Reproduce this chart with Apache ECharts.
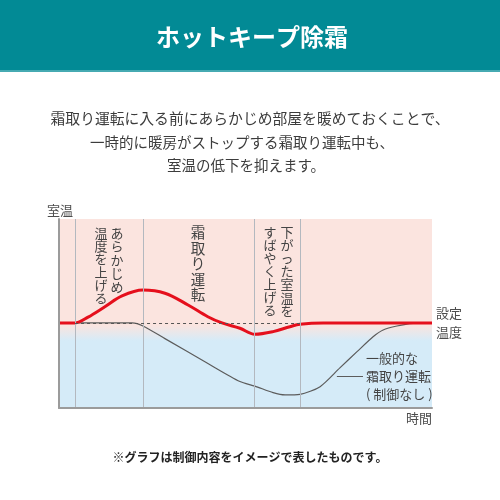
<!DOCTYPE html>
<html>
<head>
<meta charset="utf-8">
<script src="https://cdn.jsdelivr.net/npm/echarts@6/dist/echarts.min.js"></script>
<style>
  html, body { margin: 0; padding: 0; background: #fff; }
  #chart { width: 500px; height: 500px; }
</style>
</head>
<body>
<div id="chart"></div>
<script>
  // 時間軸（0〜100）と室温（0〜100）で読み取った値
  const keepTime = [0, 4.3, 7.8, 12.3, 16.9, 22.5, 28.4, 34.6, 39.9, 43.7, 48.5, 52.5, 57.4, 61.9, 64.6, 70.8, 100]
  const keepTemp = [45, 45, 48.1, 53.6, 59.3, 62.4, 60.7, 54.5, 48.3, 45, 42.2, 39.0, 40.4, 43.0, 44.3, 45, 45]

  const normalTime = [0, 19.6, 22.5, 28.4, 39.7, 48.5, 52.5, 57.4, 60.6, 64.6, 70.0, 75.3, 79.9, 84.2, 86.9, 90.6, 94.9, 100]
  const normalTemp = [45, 45, 43.4, 36.7, 23.8, 14.0, 11.6, 8.1, 6.9, 7.2, 11.3, 21.2, 29.8, 37.7, 41.3, 43.4, 44.8, 45]

  // 設定温度と区切り線
  const setTemp = 45
  const phaseLines = [4.3, 22.5, 52.3, 64.6]
  const dashRange = [4.3, 64.6]
  const leader = [[74.5, 16.9], [81.5, 16.9]]

  const paragraph = [
    '霜取り運転に入る前にあらかじめ部屋を暖めておくことで、',
    '一時的に暖房がストップする霜取り運転中も、',
    '室温の低下を抑えます。'
  ]

  const font = '"Noto Sans CJK JP", "Noto Sans", sans-serif'
  const toPairs = (xs, ys) => xs.map((x, i) => [x, ys[i]])
  const vert = s => s.split('').join('\n')

  let chart = echarts.init(document.getElementById('chart'))

  let vText = (str, x, y, size, lh) => ({
    type: 'text', x: x, y: y, z: 20,
    style: { text: vert(str), font: size + 'px ' + font, fill: '#444', align: 'center', verticalAlign: 'top', lineHeight: lh }
  })

  let option = {
    animation: false,
    grid: { left: 59, right: 68, top: 219, bottom: 92 },
    xAxis: {
      type: 'value', min: 0, max: 100, z: 5,
      axisLine: { show: true, lineStyle: { color: '#9b9b9b', width: 2 } },
      axisTick: { show: false }, axisLabel: { show: false }, splitLine: { show: false }
    },
    yAxis: {
      type: 'value', min: 0, max: 100, z: 5,
      axisLine: { show: true, lineStyle: { color: '#9b9b9b', width: 2 } },
      axisTick: { show: false }, axisLabel: { show: false }, splitLine: { show: false }
    },
    graphic: [
      { type: 'rect', shape: { x: 0, y: 0, width: 500, height: 70 }, style: { fill: '#028a95' } },
      { type: 'rect', shape: { x: 0, y: 70, width: 500, height: 2 }, style: { fill: '#46aab2' } },
      { type: 'text', x: 252, y: 37, style: { text: 'ホットキープ除霜', font: 'bold 24px ' + font, fill: '#fff', align: 'center', verticalAlign: 'middle' } },
      { type: 'text', x: 250, y: 118, style: { text: paragraph[0], font: '14.8px ' + font, fill: '#3c3c3c', align: 'center', verticalAlign: 'middle' } },
      { type: 'text', x: 242, y: 142, style: { text: paragraph[1], font: '14.5px ' + font, fill: '#3c3c3c', align: 'center', verticalAlign: 'middle' } },
      { type: 'text', x: 246, y: 165, style: { text: paragraph[2], font: '14.5px ' + font, fill: '#3c3c3c', align: 'center', verticalAlign: 'middle' } },
      { type: 'text', x: 60, y: 210, style: { text: '室温', font: '13px ' + font, fill: '#4d4d4d', align: 'center', verticalAlign: 'middle' } },
      { type: 'text', x: 432, y: 418, style: { text: '時間', font: '13px ' + font, fill: '#4d4d4d', align: 'right', verticalAlign: 'middle' } },
      { type: 'text', x: 436, y: 322.5, style: { text: '設定\n温度', font: '13px ' + font, fill: '#4d4d4d', align: 'left', verticalAlign: 'middle', lineHeight: 19 } },
      { type: 'text', x: 366, y: 376, z: 20, style: { text: '一般的な\n霜取り運転\n( 制御なし )', font: '13px ' + font, fill: '#444', align: 'left', verticalAlign: 'middle', lineHeight: 18 } },
      vText('あらかじめ', 117, 226, 13, 13.5),
      vText('温度を上げる', 101, 227, 13, 13),
      vText('霜取り運転', 198, 225, 14.5, 15.5),
      vText('下がった室温を', 287, 225, 13, 13.2),
      vText('すばやく上げる', 270, 226, 13, 13),
      { type: 'text', x: 250, y: 457, style: { text: '※グラフは制御内容をイメージで表したものです。', font: 'bold 12px ' + font, fill: '#222', align: 'center', verticalAlign: 'middle' } }
    ],
    series: [
      {
        // 背景（暖色→寒色）
        name: 'bg',
        type: 'line',
        z: 0,
        silent: true,
        showSymbol: false,
        lineStyle: { opacity: 0 },
        data: [[0, setTemp], [100, setTemp]],
        markArea: {
          silent: true,
          itemStyle: {
            color: new echarts.graphic.LinearGradient(0, 0, 0, 1, [
              { offset: 0, color: '#fbe4df' },
              { offset: 0.56, color: '#fbe4df' },
              { offset: 0.645, color: '#d5ebf8' },
              { offset: 1, color: '#d5ebf8' }
            ])
          },
          data: [[{ xAxis: 0, yAxis: 100 }, { xAxis: 100, yAxis: 0 }]]
        },
        markLine: {
          silent: true,
          symbol: 'none',
          label: { show: false },
          lineStyle: { color: '#b3b8bf', width: 1, type: 'solid' },
          data: phaseLines.map(v => ({ xAxis: v }))
        }
      },
      {
        name: '一般的な霜取り運転',
        type: 'line',
        z: 3,
        smooth: 0.25,
        showSymbol: false,
        lineStyle: { color: '#5c5c5c', width: 1.2 },
        data: toPairs(normalTime, normalTemp),
        markLine: {
          silent: true,
          symbol: 'none',
          label: { show: false },
          data: [
            [{ coord: [dashRange[0], setTemp], lineStyle: { color: '#555', width: 1, type: [3, 3] } }, { coord: [dashRange[1], setTemp] }],
            [{ coord: leader[0], lineStyle: { color: '#5c5c5c', width: 1, type: 'solid' } }, { coord: leader[1] }]
          ]
        }
      },
      {
        name: 'ホットキープ除霜',
        type: 'line',
        z: 4,
        smooth: 0.35,
        showSymbol: false,
        lineStyle: { color: '#e50f1c', width: 3 },
        data: toPairs(keepTime, keepTemp)
      }
    ]
  }
  chart.setOption(option)
  window.onresize = chart.resize
</script>
</body>
</html>
